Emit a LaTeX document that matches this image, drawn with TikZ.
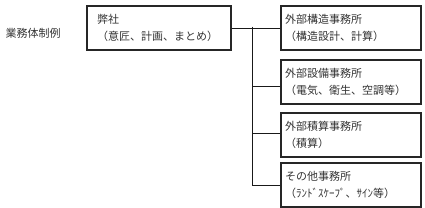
\documentclass[tikz,border=0pt]{standalone}
\usepackage{fontspec}
\setmainfont{Noto Sans CJK JP}
\begin{document}
\begin{tikzpicture}[x=1pt,y=-1pt,
  txt/.style={text=black!80, font=\fontsize{11pt}{17pt}\selectfont},
  orgbox/.style={txt, draw=black!85, line width=2.2pt, anchor=north west, align=left,
    minimum height=44pt, inner ysep=0pt},
  mainbox/.style={orgbox, text width=124pt, inner xsep=10pt, minimum width=143pt},
  subbox/.style={orgbox, text width=132pt, inner xsep=4pt, minimum width=140pt},
  link/.style={draw=black!90, line width=0.9pt}]
\useasboundingbox (0,0) rectangle (425,208);
\node[txt, anchor=west] (title) at (2,33) {業務体制例};
\node[mainbox] (main) at (86,5) {弊社\\（意匠、計画、まとめ）};
\node[subbox] (b1) at (280,5) {外部構造事務所\\（構造設計、計算）};
\node[subbox] (b2) at (280,59) {外部設備事務所\\（電気、衛生、空調等）};
\node[subbox] (b3) at (280,112) {外部積算事務所\\（積算）};
\node[subbox] (b4) at (280,162) {その他事務所\\（ﾗﾝﾄﾞｽｹｰﾌﾟ、ｻｲﾝ等）};
\coordinate (spine) at (252,27);
\draw[link] (main.east) -- (main.east -| spine);
\draw[link] (main.east -| spine) -- (b1.west);
\draw[link] (spine) |- ([yshift=-4pt]b2.west);
\draw[link] (spine) |- ([yshift=2pt]b3.west);
\draw[link] (spine) |- (b4.west);
\end{tikzpicture}
\end{document}
